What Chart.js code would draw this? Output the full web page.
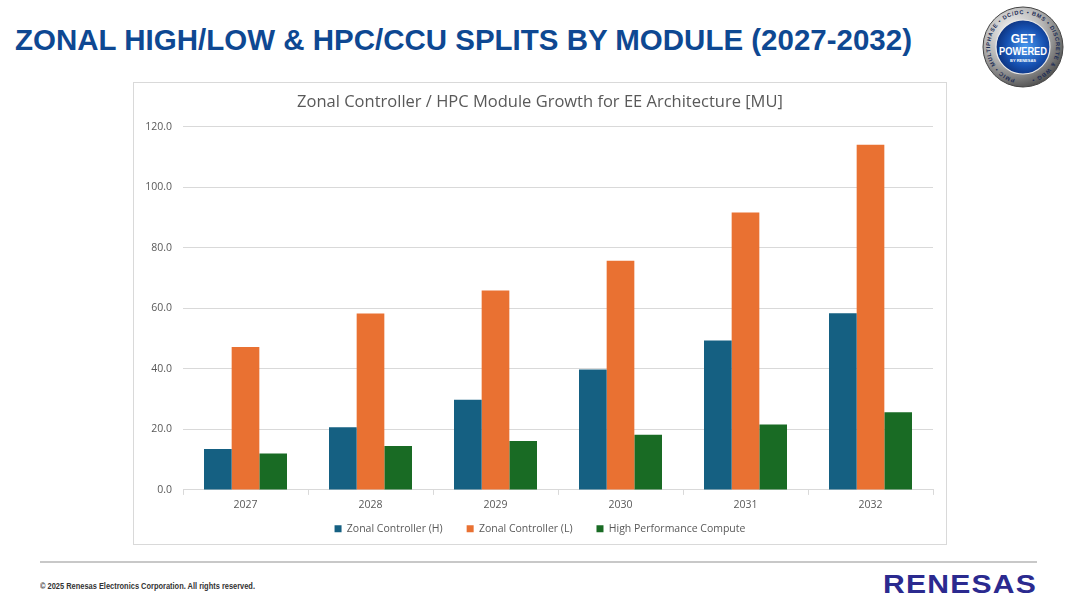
<!DOCTYPE html>
<html>
<head>
<meta charset="utf-8">
<title>Zonal High/Low & HPC/CCU splits by module</title>
<script src="https://cdn.jsdelivr.net/npm/chart.js@4.4.1/dist/chart.umd.min.js"></script>
<style>
    html, body { margin: 0; padding: 0; background: #fff; }
    #page { position: relative; width: 1080px; height: 608px; overflow: hidden; font-family: 'Liberation Sans', Arial, sans-serif; }
    .fit { position: absolute; white-space: nowrap; transform-origin: 0 50%; }
    #heading { left: 15px; top: 22px; font-size: 29px; line-height: 36px; font-weight: bold; color: #0e4892; }
    #chartBox { position: absolute; left: 133px; top: 82px; width: 812px; height: 461px; border: 1px solid #d9d9d9; }
    #footLine { position: absolute; left: 40px; top: 561px; width: 997px; height: 2px; background: #c8c8c8; }
    #copyright { left: 40px; top: 580px; font-size: 9px; line-height: 12px; font-weight: bold; color: #333; }
    #renesas { left: 883px; top: 569px; font-size: 25px; line-height: 30px; font-weight: bold; color: #2b2a8f; letter-spacing: 1px; }
    #badge { position: absolute; left: 981px; top: 5px; }
</style>
</head>
<body>
<div id="page">
    <div id="heading" class="fit" data-w="897">ZONAL HIGH/LOW &amp; HPC/CCU SPLITS BY MODULE (2027-2032)</div>
    <svg id="badge" width="84" height="84" viewBox="0 0 84 84">
        <defs>
            <radialGradient id="silver" cx="38%" cy="32%" r="70%">
                <stop offset="0" stop-color="#fafafa"/>
                <stop offset="0.55" stop-color="#b5b5b5"/>
                <stop offset="1" stop-color="#555"/>
            </radialGradient>
            <radialGradient id="blue" cx="55%" cy="50%" r="60%">
                <stop offset="0" stop-color="#4a9af0"/>
                <stop offset="0.6" stop-color="#1650b0"/>
                <stop offset="1" stop-color="#0b2a70"/>
            </radialGradient>
            <path id="ringPath" d="M 42,75 A 33,33 0 1,1 42,9 A 33,33 0 1,1 42,75"/>
        </defs>
        <circle cx="42" cy="42" r="40" fill="url(#silver)" stroke="#444" stroke-width="1"/>
        <text font-family="Liberation Sans, Arial, sans-serif" font-size="5.6" font-weight="bold" fill="#1c2c55">
            <textPath href="#ringPath" startOffset="8" textLength="190" lengthAdjust="spacing">PMIC • MULTIPHASE • DC/DC • BMS • DISCRETE &amp; WBG •</textPath>
        </text>
        <circle cx="42" cy="42" r="27" fill="url(#blue)" stroke="#e8e8e8" stroke-width="1.2"/>
        <text x="42" y="38" text-anchor="middle" font-family="Liberation Sans, Arial, sans-serif" font-size="12" font-weight="bold" fill="#fff">GET</text>
        <text x="42" y="50" text-anchor="middle" font-family="Liberation Sans, Arial, sans-serif" font-size="10.5" font-weight="bold" fill="#fff" textLength="48" lengthAdjust="spacingAndGlyphs">POWERED</text>
        <text x="42" y="57" text-anchor="middle" font-family="Liberation Sans, Arial, sans-serif" font-size="4" font-weight="bold" fill="#fff">BY RENESAS</text>
    </svg>
    <div id="chartBox"><canvas id="chart"></canvas></div>
    <div id="footLine"></div>
    <div id="copyright" class="fit" data-w="215">© 2025 Renesas Electronics Corporation. All rights reserved.</div>
    <div id="renesas" class="fit" data-w="154">RENESAS</div>
</div>
<script>
// values (million units)
const years = ['2027', '2028', '2029', '2030', '2031', '2032'];
const zonalHigh = [13.5, 20.7, 29.8, 39.8, 49.4, 58.4];
const zonalLow = [47.2, 58.3, 65.9, 75.7, 91.7, 114.1];
const hpc = [12.0, 14.5, 16.2, 18.2, 21.6, 25.7];
const seriesNames = ['Zonal Controller (H)', 'Zonal Controller (L)', 'High Performance Compute'];
const seriesColors = ['#156082', '#e97132', '#196b24'];
const yTicks = [0, 20, 40, 60, 80, 100, 120];

// squeeze the condensed texts to their width in the picture
document.querySelectorAll('.fit').forEach(el => {
    const w = el.getBoundingClientRect().width;
    el.style.transform = 'scaleX(' + (parseFloat(el.dataset.w) / w) + ')';
});

Chart.defaults.font.family = "'Open Sans', 'DejaVu Sans', sans-serif";
Chart.defaults.color = '#595959';

const seriesData = [zonalHigh, zonalLow, hpc];
const datasets = seriesNames.map((name, i) => ({
    label: name,
    data: seriesData[i],
    backgroundColor: seriesColors[i],
    borderWidth: 0,
    barPercentage: 1,
    categoryPercentage: 0.664
}));

new Chart(document.getElementById('chart'), {
    type: 'bar',
    data: { labels: years, datasets: datasets },
    options: {
        responsive: true,
        maintainAspectRatio: false,
        animation: false,
        layout: { padding: 0 },
        plugins: {
            title: {
                display: true,
                text: 'Zonal Controller / HPC Module Growth for EE Architecture [MU]',
                color: '#595959',
                font: { size: 16.5, weight: 'normal' },
                padding: { top: 9, bottom: 15 }
            },
            legend: {
                position: 'bottom',
                labels: {
                    boxWidth: 7,
                    boxHeight: 7,
                    padding: 24,
                    color: '#595959',
                    font: { size: 10.5 }
                }
            },
            tooltip: { enabled: false }
        },
        scales: {
            y: {
                min: yTicks[0],
                max: yTicks[yTicks.length - 1],
                afterBuildTicks: axis => { axis.ticks = yTicks.map(v => ({ value: v })); },
                afterFit: axis => { axis.width = 49; },
                ticks: {
                    padding: 11,
                    font: { size: 10.5 },
                    color: '#595959',
                    callback: v => Number(v).toFixed(1)
                },
                grid: { color: '#d9d9d9', drawTicks: false },
                border: { display: false }
            },
            // empty strip on the right so title and legend stay centred on the box
            rightGap: {
                type: 'linear',
                position: 'right',
                afterFit: axis => { axis.width = 13; },
                ticks: { display: false },
                grid: { display: false },
                border: { display: false }
            },
            x: {
                // tighter band under the axis; labels are allowed to leave it
                afterFit: axis => {
                    axis.height -= 16;
                    axis._computeLabelArea = () => undefined;
                },
                grid: { drawOnChartArea: false, tickLength: 5, color: '#d9d9d9' },
                border: { color: '#d9d9d9' },
                ticks: { font: { size: 10.5 }, color: '#595959', padding: 4 }
            }
        }
    }
});
</script>
</body>
</html>
